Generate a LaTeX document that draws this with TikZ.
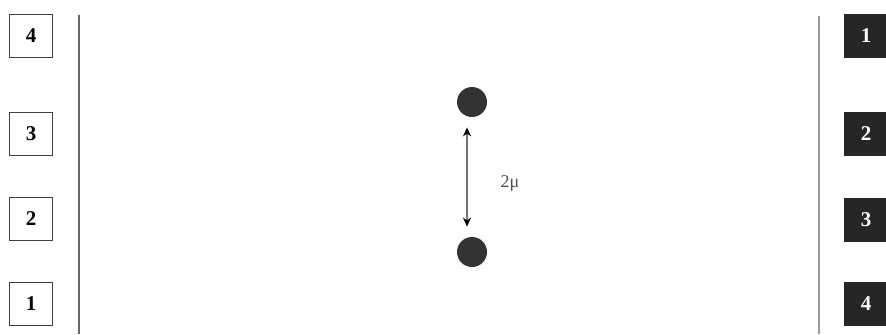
\documentclass[tikz,border=0pt]{standalone}
\usepackage{fontspec}
\setmainfont{Liberation Serif}
\usetikzlibrary{arrows.meta}
\begin{document}
\begin{tikzpicture}[
    x=0.5pt,
    y=-0.5pt,
    casilla/.style={draw=black!75,line width=0.7pt,minimum size=21.5pt,
        inner sep=0pt,font=\fontsize{10.5}{12}\selectfont\bfseries},
    casillanegra/.style={casilla,draw=black!85,fill=black!85,text=white},
    bola/.style={circle,fill=black!80,minimum size=15pt,inner sep=0pt},
    flecha/.style={black!55,line width=1pt,
        {Stealth[black,length=4.5pt,width=4pt]}-{Stealth[black,length=4.5pt,width=4pt]}}
]
    \useasboundingbox (0,0) rectangle (886,334);

    % Columna izquierda
    \draw[black!60,line width=1pt] (79,15) -- (79,334);
    \node[casilla] (i4) at (31,36) {4};
    \node[casilla] (i3) at (31,134) {3};
    \node[casilla] (i2) at (31,219) {2};
    \node[casilla] (i1) at (31,304) {1};

    % Columna derecha
    \draw[black!40,line width=1.3pt] (819,16) -- (819,334);
    \node[casillanegra] (d1) at (866,36) {1};
    \node[casillanegra] (d2) at (866,134) {2};
    \node[casillanegra] (d3) at (866,220) {3};
    \node[casillanegra] (d4) at (866,304) {4};

    % Particulas
    \node[bola] (arriba) at (472,102) {};
    \node[bola] (abajo) at (472,252) {};
    \draw[flecha,shorten <=5pt,shorten >=5pt]
        ([xshift=-2.5pt]arriba.south) -- ([xshift=-2.5pt]abajo.north);
    \node[text=black!70,font=\fontsize{9}{11}\selectfont] (dist) at (510,183) {2μ};
\end{tikzpicture}
\end{document}
